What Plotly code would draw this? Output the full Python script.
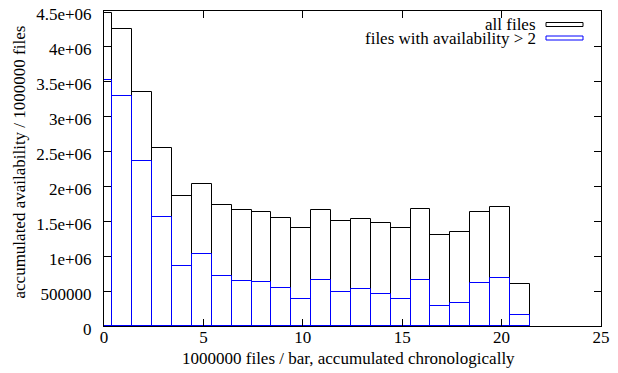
import plotly.graph_objects as go

# ---- data ----
bar_x = [-0.08, 0.92, 1.92, 2.92, 3.92, 4.92, 5.92, 6.92, 7.92, 8.92, 9.92,
         10.92, 11.92, 12.92, 13.92, 14.92, 15.92, 16.92, 17.92, 18.92, 19.92, 20.92]
all_files = [4.476e6, 4.24e6, 3.338e6, 2.548e6, 1.862e6, 2.029e6, 1.724e6, 1.652e6,
             1.633e6, 1.548e6, 1.405e6, 1.662e6, 1.495e6, 1.531e6, 1.476e6, 1.405e6,
             1.667e6, 1.305e6, 1.338e6, 1.629e6, 1.695e6, 0.600e6]
avail_gt2 = [3.514e6, 3.290e6, 2.362e6, 1.557e6, 0.862e6, 1.024e6, 0.719e6, 0.648e6,
             0.624e6, 0.538e6, 0.390e6, 0.657e6, 0.486e6, 0.524e6, 0.462e6, 0.390e6,
             0.652e6, 0.290e6, 0.324e6, 0.614e6, 0.681e6, 0.152e6]
series_names = ["all files", "files with availability > 2"]
series_colors = ["#000000", "#0000ff"]

x_tickvals = [0, 5, 10, 15, 20, 25]
x_ticktext = ["0", "5", "10", "15", "20", "25"]
y_tickvals = [0, 5e5, 1e6, 1.5e6, 2e6, 2.5e6, 3e6, 3.5e6, 4e6, 4.5e6]
y_ticktext = ["0", "500000", "1e+06", "1.5e+06", "2e+06", "2.5e+06", "3e+06",
              "3.5e+06", "4e+06", "4.5e+06"]
x_title = "1000000 files / bar, accumulated chronologically"
y_title = "accumulated availability / 1000000 files"

FONT = "Liberation Serif"

fig = go.Figure()
for name, vals, col in zip(series_names, [all_files, avail_gt2], series_colors):
    fig.add_trace(go.Bar(
        x=bar_x, y=vals, width=1, name=name,
        marker=dict(color="rgba(0,0,0,0)", line=dict(color=col, width=1)),
        showlegend=False,
    ))

# page has an 8px body margin; layout below is in page pixels
OFF = 8
W, H = 618 - OFF, 373 - OFF
PL, PT, PR, PB = 104, 11, 601, 326          # plot box in page pixels
L, T = PL - OFF, PT - OFF
R, B = 618 - PR, 373 - PB
pw, ph = PR - PL, PB - PT

def px(xp):
    return (xp - PL) / pw

def py(yp):
    return (PB - yp) / ph

axis_common = dict(ticks="inside", ticklen=7, tickwidth=1, tickcolor="black",
                   showline=True, linecolor="black", linewidth=1, mirror="ticks",
                   showgrid=False, zeroline=False, automargin=False,
                   ticklabeloverflow="allow",
                   tickfont=dict(family=FONT, size=17, color="black"))

fig.update_layout(
    template="none",
    width=W, height=H, autosize=False,
    margin=dict(l=L, r=R, t=T, b=B, pad=0, autoexpand=False),
    paper_bgcolor="white", plot_bgcolor="white",
    barmode="overlay", bargap=0,
    font=dict(family=FONT, size=17, color="black"),
    xaxis=dict(range=[0, 25], tickvals=x_tickvals, ticktext=x_ticktext,
               ticklabelstandoff=-4, **axis_common),
    yaxis=dict(range=[0, 4.5e6], tickvals=y_tickvals, ticktext=y_ticktext,
               ticklabelstandoff=8, ticklabelshift=3, **axis_common),
)

annotations = [
    dict(text=x_title, xref="paper", yref="paper", x=px(348), y=py(358),
         xanchor="center", yanchor="middle", showarrow=False),
    dict(text=y_title, xref="paper", yref="paper", x=px(19), y=py(162.5),
         xanchor="center", yanchor="middle", textangle=-90, showarrow=False),
]
legend_rows_y = [24.5, 38.0]
for name, col, yc in zip(series_names, series_colors, legend_rows_y):
    annotations.append(dict(text=name, xref="paper", yref="paper", x=px(538),
                            y=py(yc), xanchor="right", yanchor="middle",
                            showarrow=False))
    fig.add_shape(type="rect", xref="paper", yref="paper",
                  x0=px(546), x1=px(583), y0=py(yc + 2), y1=py(yc - 2),
                  line=dict(color=col, width=1), fillcolor="rgba(0,0,0,0)")
fig.update_layout(annotations=annotations)

fig.write_html("out.html")
